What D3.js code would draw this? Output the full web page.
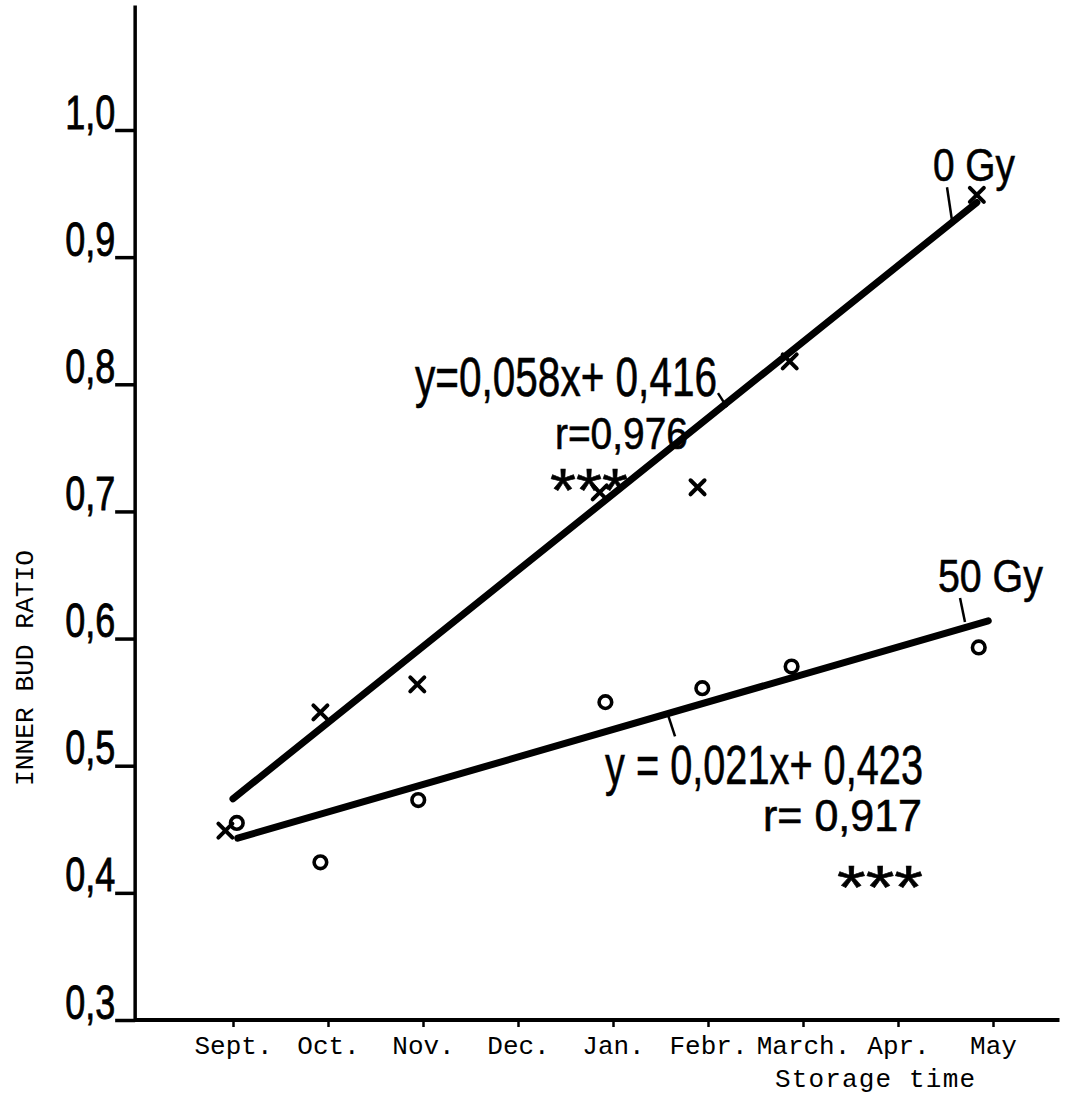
<!DOCTYPE html>
<html>
<head>
<meta charset="utf-8">
<script src="https://cdn.jsdelivr.net/npm/d3@7"></script>
<style>
  html, body { margin: 0; padding: 0; background: #fff; }
  svg { display: block; }
</style>
</head>
<body>
<script>
// ---------- DATA ----------
const months = ["Sept.", "Oct.", "Nov.", "Dec.", "Jan.", "Febr.", "March.", "Apr.", "May"]; // month index 1..9
const yTickValues = [0.3, 0.4, 0.5, 0.6, 0.7, 0.8, 0.9, 1.0];
const yTickLabels = ["0,3", "0,4", "0,5", "0,6", "0,7", "0,8", "0,9", "1,0"];

// 0 Gy observations (month position, inner bud ratio)
const gy0Month = [0.92, 1.92, 2.94, 4.86, 5.89, 6.86, 8.83];
const gy0Ratio = [0.449, 0.542, 0.564, 0.715, 0.719, 0.818, 0.949];
// 50 Gy observations
const gy50Month = [1.04, 1.92, 2.95, 4.92, 5.94, 6.88, 8.85];
const gy50Ratio = [0.455, 0.424, 0.473, 0.550, 0.561, 0.578, 0.593];

// regression lines (start / end)
const fit0Month = [1.0, 8.83];
const fit0Ratio = [0.474, 0.943];
const fit50Month = [1.05, 8.95];
const fit50Ratio = [0.443, 0.614];

const yAxisTitle = "INNER BUD RATIO";
const xAxisTitle = "Storage time";
const eq0Text = "y=0,058x+ 0,416";
const r0Text = "r=0,976";
const eq50Text = "y = 0,021x+ 0,423";
const r50Text = "r= 0,917";
const starsText = "***";
const label0 = "0 Gy";
const label50 = "50 Gy";

// ---------- LAYOUT ----------
const W = 1075, H = 1101;
const svg = d3.select("body").append("svg").attr("width", W).attr("height", H);

const x = d3.scaleLinear().domain([1, 9]).range([233, 993]);
const y = d3.scaleLinear().domain([0.3, 1.0]).range([1020, 130]);
const xAxisStart = -0.03, xAxisEnd = 9.7, yAxisTop = 1.098;

const ink = "#000";
const sans = "'Liberation Sans', Arial, sans-serif";
const mono = "'Liberation Mono', 'DejaVu Sans Mono', monospace";

// ---------- Y AXIS ----------
const yAxisG = svg.append("g").attr("transform", `translate(${x(xAxisStart)},0)`)
  .call(d3.axisLeft(y).tickValues(yTickValues).tickSize(20).tickPadding(0)
        .tickFormat((d, i) => yTickLabels[i]));
yAxisG.select(".domain").remove();
yAxisG.selectAll(".tick line").attr("stroke", ink).attr("stroke-width", 3.5);
yAxisG.selectAll(".tick text")
  .attr("fill", ink).attr("stroke", ink).attr("stroke-width", 0.9)
  .attr("font-family", sans).attr("font-size", 49)
  .attr("dy", -2).attr("textLength", 50).attr("lengthAdjust", "spacingAndGlyphs");
svg.append("line")
  .attr("x1", x(xAxisStart)).attr("x2", x(xAxisStart))
  .attr("y1", y(yAxisTop)).attr("y2", y(0.3) + 2)
  .attr("stroke", ink).attr("stroke-width", 3.5);

// ---------- X AXIS ----------
const xAxisG = svg.append("g").attr("transform", `translate(0,${y(0.3)})`)
  .call(d3.axisBottom(x).tickValues(d3.range(1, 10)).tickSize(7).tickPadding(9)
        .tickFormat(d => months[d - 1]));
xAxisG.select(".domain").remove();
xAxisG.selectAll(".tick line").attr("stroke", ink).attr("stroke-width", 2.5);
xAxisG.selectAll(".tick text")
  .attr("fill", ink).attr("font-family", mono).attr("font-size", 26);
svg.append("line")
  .attr("x1", x(xAxisStart) - 1).attr("x2", x(xAxisEnd))
  .attr("y1", y(0.3)).attr("y2", y(0.3))
  .attr("stroke", ink).attr("stroke-width", 4);

// axis titles
svg.append("text")
  .attr("transform", `translate(33,${668}) rotate(-90)`)
  .attr("text-anchor", "middle")
  .attr("font-family", mono).attr("font-size", 25).attr("fill", ink)
  .attr("textLength", 236).attr("lengthAdjust", "spacingAndGlyphs")
  .text(yAxisTitle);
svg.append("text")
  .attr("x", 775).attr("y", 1087)
  .attr("font-family", mono).attr("font-size", 26).attr("fill", ink)
  .attr("textLength", 200).attr("lengthAdjust", "spacing")
  .text(xAxisTitle);

// ---------- REGRESSION LINES ----------
const line = d3.line().x(d => x(d[0])).y(d => y(d[1]));
svg.append("path").datum(d3.zip(fit0Month, fit0Ratio))
  .attr("d", line).attr("fill", "none").attr("stroke", ink)
  .attr("stroke-width", 7).attr("stroke-linecap", "round");
svg.append("path").datum(d3.zip(fit50Month, fit50Ratio))
  .attr("d", line).attr("fill", "none").attr("stroke", ink)
  .attr("stroke-width", 7).attr("stroke-linecap", "round");

// ---------- MARKERS ----------
const timesSym = d3.symbol().type(d3.symbolTimes).size(130);
svg.append("g").selectAll("path").data(d3.zip(gy0Month, gy0Ratio)).join("path")
  .attr("transform", d => `translate(${x(d[0])},${y(d[1])})`)
  .attr("d", timesSym())
  .attr("fill", "none").attr("stroke", ink).attr("stroke-width", 4).attr("stroke-linecap", "round");
svg.append("g").selectAll("circle").data(d3.zip(gy50Month, gy50Ratio)).join("circle")
  .attr("cx", d => x(d[0])).attr("cy", d => y(d[1])).attr("r", 6.3)
  .attr("fill", "none").attr("stroke", ink).attr("stroke-width", 3.6);

// ---------- ANNOTATIONS ----------
function label(txt, m, v, size, len) {
  svg.append("text").attr("x", x(m)).attr("y", y(v))
    .attr("font-family", sans).attr("font-size", size).attr("fill", ink)
    .attr("stroke", ink).attr("stroke-width", 0.6)
    .attr("textLength", len).attr("lengthAdjust", "spacingAndGlyphs")
    .text(txt);
}
function leader(m1, v1, m2, v2) {
  svg.append("line").attr("x1", x(m1)).attr("y1", y(v1)).attr("x2", x(m2)).attr("y2", y(v2))
    .attr("stroke", ink).attr("stroke-width", 2.5);
}
// 0 Gy
label(eq0Text, 2.916, 0.791, 56, 302);
label(r0Text, 4.389, 0.749, 44, 133);
label(starsText, 4.337, 0.700, 62, 78);
leader(6.105, 0.793, 6.2, 0.782);
label(label0, 8.368, 0.960, 46, 82);
leader(8.516, 0.955, 8.568, 0.929);
// 50 Gy
label(label50, 8.42, 0.637, 46, 105);
leader(8.653, 0.632, 8.705, 0.613);
label(eq50Text, 4.916, 0.486, 56, 318);
label(r50Text, 6.579, 0.449, 44, 159);
label(starsText, 7.358, 0.388, 62, 86);
leader(5.579, 0.540, 5.653, 0.523);
</script>
</body>
</html>
